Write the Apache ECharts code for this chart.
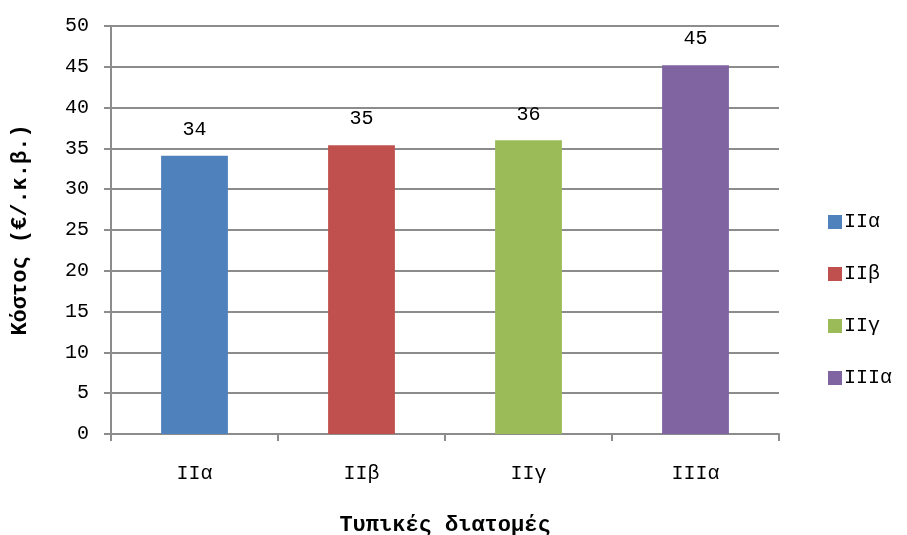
<!DOCTYPE html>
<html>
<head>
<meta charset="utf-8">
<script src="https://cdn.jsdelivr.net/npm/echarts@6/dist/echarts.min.js"></script>
<style>
  html, body { margin: 0; padding: 0; background: #fff; }
  #chart { width: 907px; height: 535px; }
</style>
</head>
<body>
<div id="chart"></div>
<script>
// Cost per cross-section type
const categories = ['ΙΙα', 'ΙΙβ', 'ΙΙγ', 'ΙΙΙα'];
const costs = [34.1, 35.4, 36.0, 45.2];
const colors = ['#4F81BD', '#C0504D', '#9BBB59', '#8064A2'];
const yTicks = { min: 0, max: 50, interval: 5 };

const FONT = '"Liberation Mono", "DejaVu Sans Mono", monospace';
const GRID_GRAY = '#8c8c8c';

// One series per category so each gets its own legend entry;
// stacking keeps every bar centred in its slot.
const series = categories.map((name, i) => ({
  name: name,
  type: 'bar',
  stack: 'cost',
  barWidth: '40%',
  itemStyle: { color: colors[i] },
  label: {
    show: true,
    position: 'top',
    distance: 16,
    fontFamily: FONT,
    fontSize: 20,
    color: '#000',
    formatter: p => Math.round(p.value)
  },
  data: categories.map((c, j) => (j === i ? costs[i] : '-'))
}));

const chart = echarts.init(document.getElementById('chart'), null, { renderer: 'canvas' });
chart.setOption({
  animation: false,
  backgroundColor: '#fff',
  grid: { left: 111, right: 128, top: 26, bottom: 101, containLabel: false, outerBoundsMode: 'none' },
  legend: {
    orient: 'vertical',
    left: 823,
    top: 207,
    itemWidth: 14,
    itemHeight: 14,
    itemGap: 32,
    icon: 'rect',
    textStyle: { fontFamily: FONT, fontSize: 20, color: '#000', padding: [0, 0, 0, -3] },
    data: categories
  },
  xAxis: {
    type: 'category',
    data: categories,
    name: 'Τυπικές διατομές',
    nameLocation: 'middle',
    nameGap: 80,
    nameTextStyle: { fontFamily: FONT, fontSize: 22, fontWeight: 'bold', color: '#000' },
    axisLine: { lineStyle: { color: GRID_GRAY, width: 2 } },
    axisTick: { show: true, length: 7, lineStyle: { color: GRID_GRAY, width: 2 } },
    axisLabel: { fontFamily: FONT, fontSize: 20, color: '#000', margin: 30 }
  },
  yAxis: {
    type: 'value',
    min: yTicks.min,
    max: yTicks.max,
    interval: yTicks.interval,
    name: 'Κόστος (€/.κ.β.)',
    nameLocation: 'middle',
    nameGap: 80,
    nameTextStyle: { fontFamily: FONT, fontSize: 22, fontWeight: 'bold', color: '#000' },
    axisLine: { show: true, lineStyle: { color: GRID_GRAY, width: 2 } },
    axisTick: { show: true, length: 7, lineStyle: { color: GRID_GRAY, width: 2 } },
    splitLine: { show: true, lineStyle: { color: GRID_GRAY, width: 2 } },
    axisLabel: { fontFamily: FONT, fontSize: 20, color: '#000', margin: 22 }
  },
  series: series
});
</script>
</body>
</html>
